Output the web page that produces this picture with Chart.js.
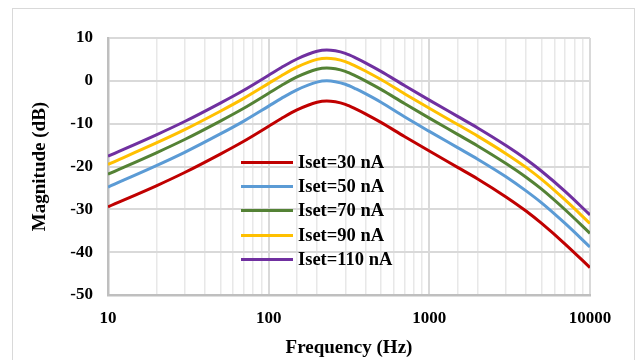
<!DOCTYPE html>
<html>
<head>
<meta charset="utf-8">
<script src="https://cdn.jsdelivr.net/npm/chart.js@4"></script>
<style>
  body { margin: 0; background: #fff; }
  #wrap { position: relative; width: 642px; height: 360px; overflow: hidden; }
  #frame { position: absolute; left: 12px; top: 8px; width: 623px; height: 400px; border: 1.5px solid #d9d9d9; box-sizing: border-box; }
  canvas { position: absolute; left: 0; top: 0; }
  #legend { position: absolute; left: 241px; top: 150px; font: bold 18.5px "Liberation Serif", "Times New Roman", serif; color: #000; }
  #legend div { height: 24.3px; display: flex; align-items: center; white-space: nowrap; }
  #legend span.ln { display: inline-block; width: 52px; height: 3px; margin-right: 5px; }
</style>
</head>
<body>
<div id="wrap">
  <div id="frame"></div>
  <canvas id="chart" width="642" height="360"></canvas>
  <div id="legend"></div>
</div>
<script>
// frequency points (Hz)
const freqs = [10, 20, 30, 50, 70, 100, 120, 150, 200, 230, 260, 300, 350, 400, 500, 700, 1000, 1500, 2000, 3000, 4000, 5000, 7000, 10000];

// magnitude (dB) for each bias current
const iset30  = [-29.4, -24.5, -21.4, -17.1, -14.1, -10.6, -8.8, -6.8, -5.0, -4.7, -4.9, -5.5, -6.6, -7.7, -9.7, -13.0, -16.4, -20.2, -22.9, -27.1, -30.4, -33.3, -38.1, -43.6];
const iset50  = [-24.8, -19.8, -16.7, -12.4, -9.4, -5.9, -4.1, -2.1, -0.3, 0.0, -0.2, -0.8, -1.9, -3.0, -5.0, -8.4, -11.8, -15.6, -18.3, -22.4, -25.7, -28.5, -33.3, -38.8];
const iset70  = [-21.8, -16.8, -13.7, -9.4, -6.4, -2.9, -1.1, 0.9, 2.7, 3.0, 2.8, 2.2, 1.1, 0.0, -2.0, -5.3, -8.7, -12.5, -15.2, -19.3, -22.5, -25.3, -30.1, -35.6];
const iset90  = [-19.5, -14.5, -11.4, -7.1, -4.1, -0.6, 1.2, 3.2, 5.0, 5.3, 5.1, 4.5, 3.4, 2.3, 0.3, -3.0, -6.4, -10.2, -12.9, -17.0, -20.2, -23.0, -27.8, -33.3];
const iset110 = [-17.6, -12.6, -9.5, -5.2, -2.2, 1.3, 3.1, 5.1, 6.9, 7.2, 7.0, 6.4, 5.3, 4.2, 2.2, -1.1, -4.5, -8.3, -11.0, -15.1, -18.3, -21.1, -25.8, -31.3];

const seriesLabels = ['Iset=30 nA', 'Iset=50 nA', 'Iset=70 nA', 'Iset=90 nA', 'Iset=110 nA'];
const seriesData = [iset30, iset50, iset70, iset90, iset110];
const seriesColors = ['#c00000', '#5b9bd5', '#548235', '#ffc000', '#7030a0'];

const fontFamily = '"Liberation Serif", "Times New Roman", serif';

const datasets = seriesData.map((vals, i) => ({
    label: seriesLabels[i],
    data: vals.map((v, j) => ({ x: freqs[j], y: v })),
    borderColor: seriesColors[i],
    backgroundColor: seriesColors[i],
    borderWidth: 3,
    pointRadius: 0,
    fill: false,
    cubicInterpolationMode: 'monotone'
}));

const isDecade = v => Math.abs(Math.log10(v) - Math.round(Math.log10(v))) < 1e-9;

new Chart(document.getElementById('chart').getContext('2d'), {
    type: 'line',
    data: { datasets: datasets },
    options: {
        responsive: false,
        animation: false,
        layout: { padding: { left: 0, right: 52, top: 38, bottom: 0 } },
        plugins: { legend: { display: false }, tooltip: { enabled: false } },
        scales: {
            x: {
                type: 'logarithmic',
                min: 10,
                max: 10000,
                afterFit: s => { s.height = 65; },
                grid: {
                    drawTicks: false,
                    color: ctx => isDecade(ctx.tick.value) ? '#d9d9d9' : '#e8e8e8',
                    lineWidth: ctx => isDecade(ctx.tick.value) ? 2 : 1.5
                },
                border: { color: '#bfbfbf', width: 2.5 },
                ticks: {
                    padding: 13,
                    color: '#000',
                    maxRotation: 0,
                    autoSkip: false,
                    font: { family: fontFamily, size: 17, weight: 'bold' },
                    callback: v => isDecade(v) ? String(v) : ''
                },
                title: {
                    display: true,
                    text: 'Frequency (Hz)',
                    color: '#000',
                    padding: { top: 0, bottom: 1 },
                    font: { family: fontFamily, size: 19, weight: 'bold' }
                }
            },
            y: {
                min: -50,
                max: 10,
                afterFit: s => { s.width = 108; },
                grid: { drawTicks: false, color: '#d9d9d9', lineWidth: 2 },
                border: { color: '#bfbfbf', width: 2.5 },
                ticks: {
                    stepSize: 10,
                    padding: 15,
                    color: '#000',
                    font: { family: fontFamily, size: 17, weight: 'bold' }
                },
                title: {
                    display: true,
                    text: 'Magnitude (dB)',
                    color: '#000',
                    padding: { top: 29, bottom: 0 },
                    font: { family: fontFamily, size: 19, weight: 'bold' }
                }
            }
        }
    }
});

// legend inside the plot area
const legendEl = document.getElementById('legend');
seriesLabels.forEach((label, i) => {
    const row = document.createElement('div');
    const ln = document.createElement('span');
    ln.className = 'ln';
    ln.style.background = seriesColors[i];
    row.appendChild(ln);
    row.appendChild(document.createTextNode(label));
    legendEl.appendChild(row);
});
</script>
</body>
</html>
